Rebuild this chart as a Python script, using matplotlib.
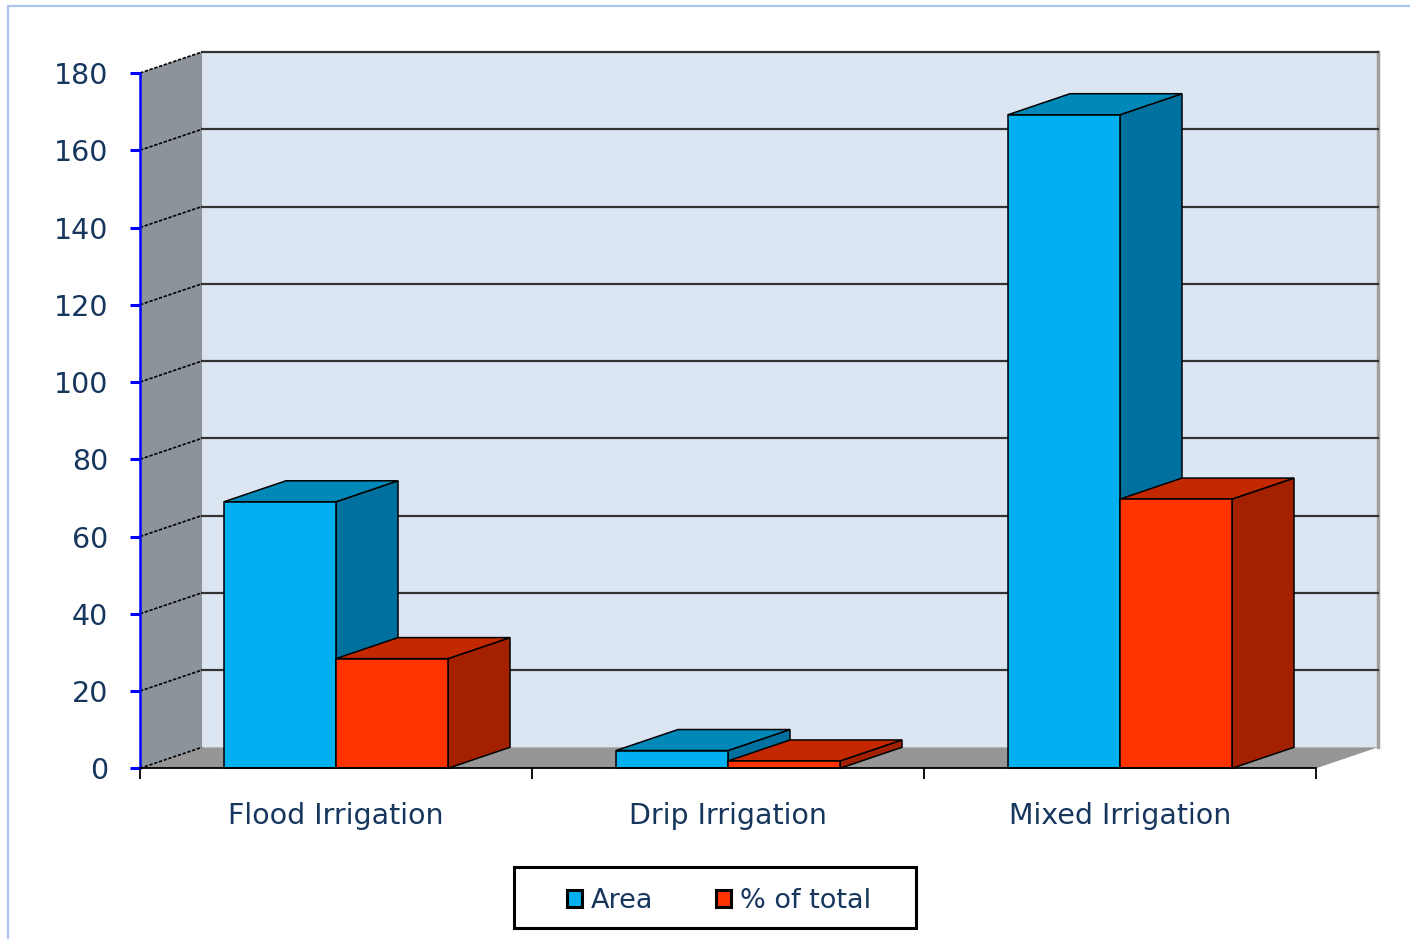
import numpy as np
import matplotlib
matplotlib.use("Agg")
import matplotlib.pyplot as plt
from matplotlib.patches import Rectangle, Polygon, Patch

# data
categories = ["Flood Irrigation", "Drip Irrigation", "Mixed Irrigation"]
area = [69.0, 4.6, 169.2]
pct_total = [28.4, 1.9, 69.7]
series_names = ["Area", "% of total"]
y_ticks = [0, 20, 40, 60, 80, 100, 120, 140, 160, 180]

# colours: front, top, side
area_cols = ("#00B0F0", "#0088B8", "#00719E")
pct_cols = ("#FF3300", "#C42800", "#A32000")
text_col = "#17365D"

W, H = 1410, 939
fig = plt.figure(figsize=(W / 100, H / 100), dpi=100)

# outer chart border (only top/left visible)
fig.patches.append(Rectangle((8 / W, -0.1), 1.2, (H - 6) / H + 0.1,
                             transform=fig.transFigure, fill=False,
                             edgecolor="#A9C5EC", lw=1.6))

y0, y1 = 768.3, 73
ax = fig.add_axes([140 / W, (H - y0) / H, 1176 / W, (y0 - y1) / H])
ax.set_xlim(0, 3)
ax.set_ylim(0, 180)
ax.patch.set_visible(False)

# depth of the 3d box, in data units
dx = 62 / (1176 / 3)
dy = 21 / ((y0 - y1) / 180)
ymax = y_ticks[-1]
n = len(categories)

# walls and floor
ax.add_patch(Rectangle((dx, dy), n, ymax, facecolor="#DCE6F2", edgecolor="none",
                       zorder=0, clip_on=False))
ax.plot([n + dx, n + dx], [dy, ymax + dy], color="#A0A0A0", lw=2.5, zorder=1, clip_on=False)
ax.add_patch(Polygon([(0, 0), (0, ymax), (dx, ymax + dy), (dx, dy)], closed=True,
                     facecolor="#8C939B", edgecolor="none", zorder=0, clip_on=False))
ax.add_patch(Polygon([(0, 0), (n, 0), (n + dx, dy), (dx, dy)], closed=True,
                     facecolor="#969696", edgecolor="none", zorder=1, clip_on=False))

for t in y_ticks:
    if t > 0:
        ax.plot([dx, n + dx], [t + dy, t + dy], color="#333333", lw=1.6, zorder=1, clip_on=False)
    ax.plot([0, dx], [t, t + dy], color="black", lw=1.2, ls=(0, (2, 1)), zorder=1, clip_on=False)


def bar3d(x, w, h, cols):
    side = [(x + w, 0), (x + w + dx, dy), (x + w + dx, h + dy), (x + w, h)]
    top = [(x, h), (x + dx, h + dy), (x + w + dx, h + dy), (x + w, h)]
    for pts, c in ((side, cols[2]), (top, cols[1])):
        ax.add_patch(Polygon(pts, closed=True, facecolor=c, edgecolor="black",
                             lw=1.1, zorder=3, clip_on=False))
    ax.add_patch(Rectangle((x, 0), w, h, facecolor=cols[0], edgecolor="black",
                           lw=1.1, zorder=3, clip_on=False))


bw = 1 / 3.5
for i in range(n):
    c = i + 0.5
    bar3d(c - bw, bw, area[i], area_cols)
    bar3d(c, bw, pct_total[i], pct_cols)

# axes
for s in ["top", "right"]:
    ax.spines[s].set_visible(False)
ax.spines["left"].set_color("#0000FF")
ax.spines["left"].set_linewidth(1.8)
ax.spines["bottom"].set_color("black")
ax.spines["bottom"].set_linewidth(1.3)
ax.spines["bottom"].set_zorder(4)

ax.set_yticks(y_ticks)
ax.set_yticklabels([str(t) for t in y_ticks])
ax.tick_params(axis="y", colors="#0000FF", length=7, width=2.2, pad=16,
               labelcolor=text_col, labelsize=20.5)
ax.set_xticks(np.arange(n + 1))
ax.set_xticklabels([])
ax.set_xticks(np.arange(n) + 0.5, minor=True)
ax.set_xticklabels(categories, minor=True)
ax.tick_params(axis="x", which="major", length=8, width=1.3, color="black")
ax.tick_params(axis="x", which="minor", length=0, pad=24.5, labelcolor=text_col,
               labelsize=20.5)

# legend
handles = [Patch(facecolor=area_cols[0], edgecolor="black", lw=2.2),
           Patch(facecolor=pct_cols[0], edgecolor="black", lw=2.2)]
leg = fig.legend(handles, series_names, loc="center", bbox_to_anchor=(719 / W, 1 - 901 / H),
                 ncol=2, frameon=False, fontsize=19.5, handlelength=0.55, handleheight=0.55,
                 handletextpad=0.35, columnspacing=2.3)
for t in leg.get_texts():
    t.set_color(text_col)
fig.patches.append(Rectangle((514 / W, 1 - 928 / H), 402 / W, 61 / H,
                             transform=fig.transFigure, fill=False,
                             edgecolor="black", lw=2.2))

fig.savefig("out.png", dpi=100)
